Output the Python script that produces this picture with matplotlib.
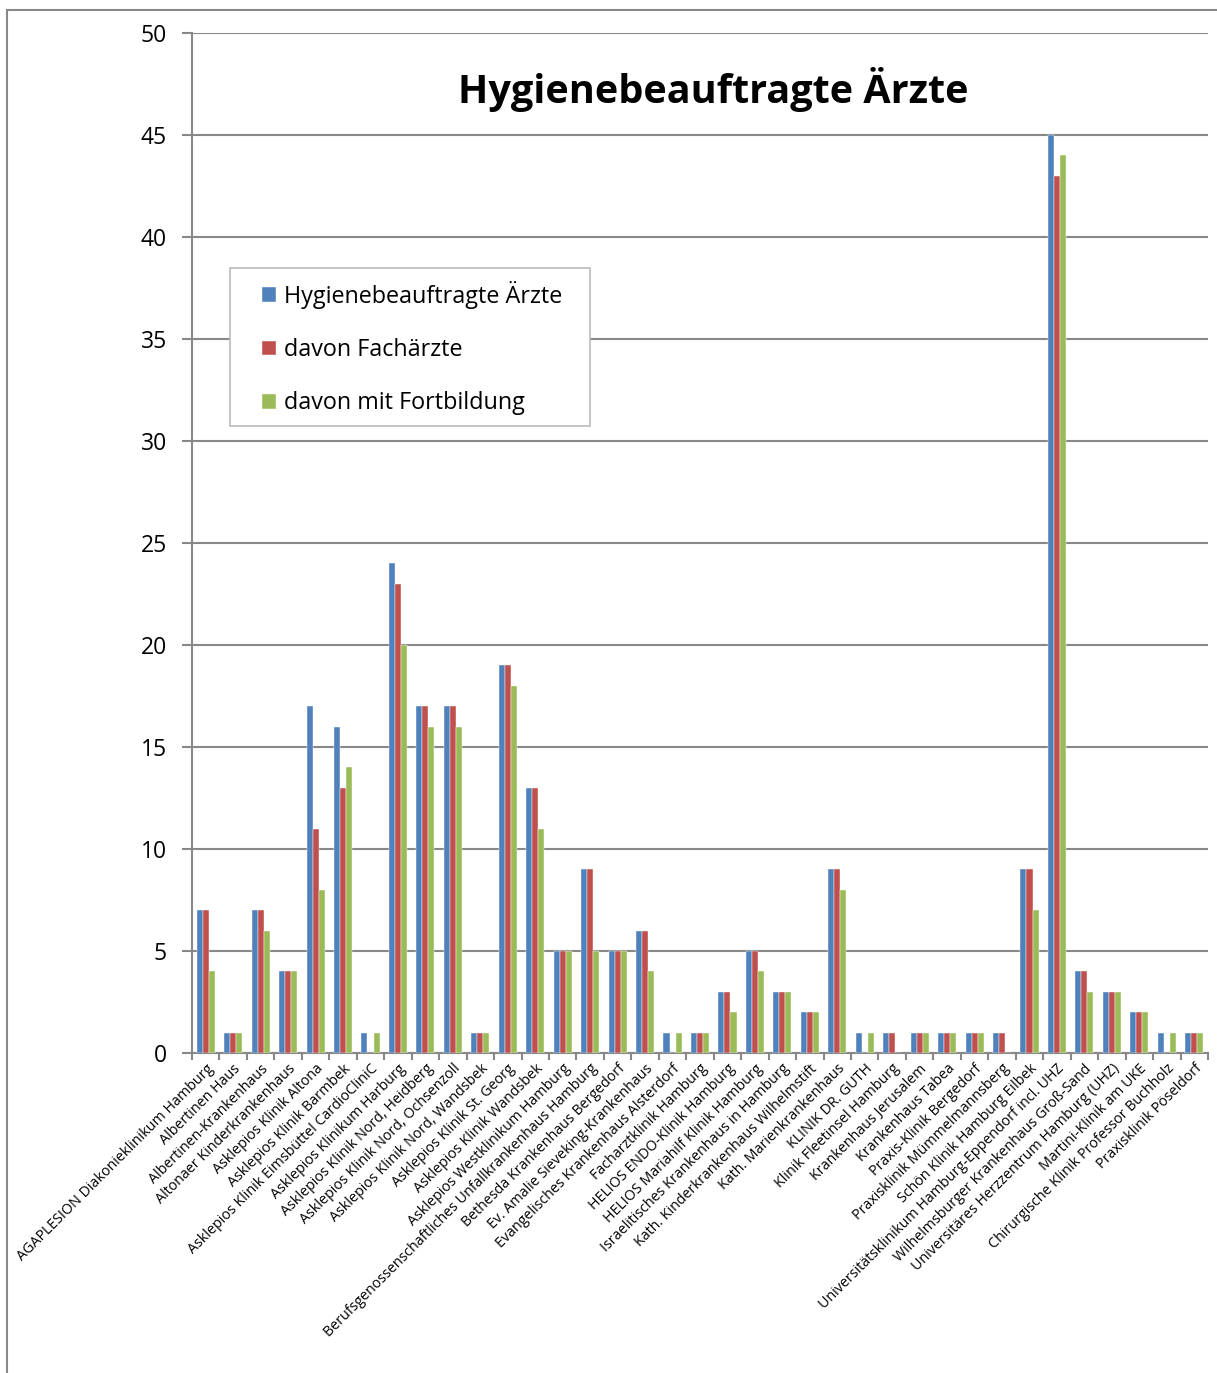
import matplotlib.pyplot as plt
import numpy as np
from matplotlib.patches import Rectangle

plt.rcParams['font.family'] = ['Open Sans', 'DejaVu Sans']

kliniken = [
    "AGAPLESION Diakonieklinikum Hamburg", "Albertinen Haus", "Albertinen-Krankenhaus",
    "Altonaer Kinderkrankenhaus", "Asklepios Klinik Altona", "Asklepios Klinik Barmbek",
    "Asklepios Klinik Eimsbüttel CardioCliniC", "Asklepios Klinikum Harburg",
    "Asklepios Klinik Nord, Heidberg", "Asklepios Klinik Nord, Ochsenzoll",
    "Asklepios Klinik Nord, Wandsbek", "Asklepios Klinik St. Georg", "Asklepios Klinik Wandsbek",
    "Asklepios Westklinikum Hamburg", "Berufsgenossenschaftliches Unfallkrankenhaus Hamburg",
    "Bethesda Krankenhaus Bergedorf", "Ev. Amalie Sieveking-Krankenhaus",
    "Evangelisches Krankenhaus Alsterdorf", "Facharztklinik Hamburg",
    "HELIOS ENDO-Klinik Hamburg", "HELIOS Mariahilf Klinik Hamburg",
    "Israelitisches Krankenhaus in Hamburg", "Kath. Kinderkrankenhaus Wilhelmstift",
    "Kath. Marienkrankenhaus", "KLINIK DR. GUTH", "Klinik Fleetinsel Hamburg",
    "Krankenhaus Jerusalem", "Krankenhaus Tabea", "Praxis-Klinik Bergedorf",
    "Praxisklinik Mümmelmannsberg", "Schön Klinik Hamburg Eilbek",
    "Universitätsklinikum Hamburg-Eppendorf incl. UHZ", "Wilhelmsburger Krankenhaus Groß-Sand",
    "Universitäres Herzzentrum Hamburg (UHZ)", "Martini-Klinik am UKE",
    "Chirurgische Klinik Professor Buchholz", "Praxisklinik Pöseldorf",
]
aerzte = [7, 1, 7, 4, 17, 16, 1, 24, 17, 17, 1, 19, 13, 5, 9, 5, 6, 1, 1, 3, 5, 3, 2, 9,
          1, 1, 1, 1, 1, 1, 9, 45, 4, 3, 2, 1, 1]
fachaerzte = [7, 1, 7, 4, 11, 13, 0, 23, 17, 17, 1, 19, 13, 5, 9, 5, 6, 0, 1, 3, 5, 3, 2, 9,
              0, 1, 1, 1, 1, 1, 9, 43, 4, 3, 2, 0, 1]
fortbildung = [4, 1, 6, 4, 8, 14, 1, 20, 16, 16, 1, 18, 11, 5, 5, 5, 4, 1, 1, 2, 4, 3, 2, 8,
               1, 0, 1, 1, 1, 0, 7, 44, 3, 3, 2, 1, 1]

serien = [("Hygienebeauftragte Ärzte", aerzte, "#4F81BD"),
          ("davon Fachärzte", fachaerzte, "#C0504D"),
          ("davon mit Fortbildung", fortbildung, "#9BBB59")]

W, H = 1217, 1373
fig = plt.figure(figsize=(W/100, H/100), dpi=100)
ax = fig.add_axes([192/W, 1 - 1053/H, (1208-192)/W, (1053-33)/H])

# outer chart frame
fig.patches.append(Rectangle((7/W, -0.1), 1.2, 1 - 10/H + 0.1, transform=fig.transFigure,
                             fill=False, edgecolor="#888888", linewidth=1.5))
# legend frame
fig.patches.append(Rectangle((230/W, 1 - 426/H), 360/W, 158/H, transform=fig.transFigure,
                             facecolor="white", edgecolor="#BBBBBB", linewidth=1.2, zorder=4))

x = np.arange(len(kliniken))
w = 0.22
for i, (name, vals, col) in enumerate(serien):
    ax.bar(x + (i - 1) * w, vals, w, color=col, label=name, edgecolor="white",
           linewidth=0.3, zorder=3)

ax.set_xlim(-0.5, len(kliniken) - 0.5)
ax.set_ylim(0, 50)
ax.set_yticks(np.arange(0, 51, 5))
ax.grid(axis="y", color="#888888", linewidth=1.5, zorder=0)
ax.set_axisbelow(True)
for s in ["top", "right"]:
    ax.spines[s].set_visible(False)
for s in ["left", "bottom"]:
    ax.spines[s].set_color("#888888")
    ax.spines[s].set_linewidth(1.5)
ax.set_xticks(np.arange(len(kliniken) + 1) - 0.5, minor=False)
ax.set_xticklabels([])
ax.set_xticks(x, minor=True)
ax.set_xticklabels(kliniken, minor=True, rotation=45, ha="right", va="top",
                   rotation_mode="anchor", fontsize=10.3)
ax.tick_params(axis="x", which="minor", length=0, pad=6)
ax.tick_params(axis="x", which="major", length=5, color="#888888", width=1.5)
ax.tick_params(axis="y", length=7, color="#888888", width=1.5, labelsize=16.5, pad=11)

fig.text(713/W, 1 - 90/H, "Hygienebeauftragte Ärzte", ha="center", va="center",
         fontsize=28.5, fontweight="bold")

leg = fig.legend(*ax.get_legend_handles_labels(), loc="upper left",
                 bbox_to_anchor=(262/W, 1 - 281/H), bbox_transform=fig.transFigure,
                 fontsize=16.8, frameon=False,
                 handlelength=0.6, handleheight=0.6, handletextpad=0.35,
                 labelspacing=1.25, borderpad=0, borderaxespad=0)
leg.set_zorder(5)

fig.savefig("out.png", dpi=100)
